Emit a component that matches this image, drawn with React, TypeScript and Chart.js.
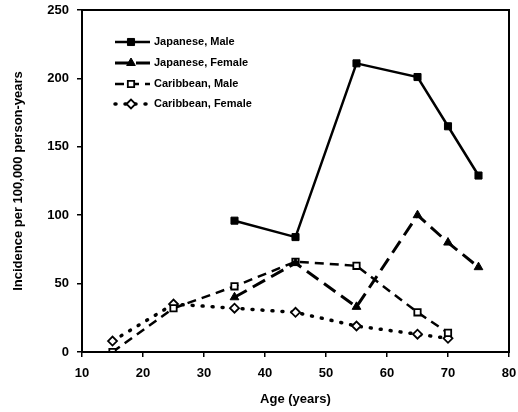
import React, { useEffect, useRef } from 'react';
import { Chart, registerables } from 'chart.js';
import { drawPoint } from 'chart.js/helpers';

Chart.register(...registerables);

const seriesNames = ['Japanese, Male', 'Japanese, Female', 'Caribbean, Male', 'Caribbean, Female'];
const japaneseAges = [35, 45, 55, 65, 70, 75];
const japaneseMale = [96, 84, 211, 201, 165, 129];
const japaneseFemale = [40, 65, 33, 100, 80, 62];
const caribbeanAges = [15, 25, 35, 45, 55, 65, 70];
const caribbeanMale = [0, 32, 48, 66, 63, 29, 14];
const caribbeanFemale = [8, 35, 32, 29, 19, 13, 10];
const xTickValues = [10, 20, 30, 40, 50, 60, 70, 80];
const yTickValues = [0, 50, 100, 150, 200, 250];

const FONT = '"Liberation Sans", Arial, sans-serif';

const toPoints = (xs: number[], ys: number[]) => xs.map((x, i) => ({ x, y: ys[i] }));

const frameAndLegend = {
  id: 'frameAndLegend',
  afterDatasetsDraw(chart: any) {
    const { ctx, chartArea } = chart;
    ctx.save();
    ctx.strokeStyle = '#000';
    ctx.lineWidth = 2;
    ctx.strokeRect(chartArea.left, chartArea.top, chartArea.right - chartArea.left, chartArea.bottom - chartArea.top);
    const x0 = 115;
    const x1 = 150;
    const ys = [42, 63, 84, 104];
    chart.data.datasets.forEach((ds: any, i: number) => {
      const y = ys[i];
      ctx.save();
      ctx.strokeStyle = ds.borderColor;
      ctx.lineWidth = ds.borderWidth;
      ctx.setLineDash(ds.borderDash || []);
      ctx.lineCap = ds.borderCapStyle || 'butt';
      ctx.beginPath();
      ctx.moveTo(x0, y);
      ctx.lineTo(x1, y);
      ctx.stroke();
      ctx.setLineDash([]);
      ctx.fillStyle = ds.pointBackgroundColor;
      ctx.strokeStyle = ds.pointBorderColor;
      ctx.lineWidth = ds.pointBorderWidth;
      drawPoint(ctx, { pointStyle: ds.pointStyle, radius: ds.pointRadius, rotation: 0, borderWidth: ds.pointBorderWidth }, 131, y);
      ctx.restore();
      ctx.fillStyle = '#000';
      ctx.font = `bold 11px ${FONT}`;
      ctx.textBaseline = 'middle';
      ctx.textAlign = 'left';
      ctx.fillText(seriesNames[i], 154, y);
    });
    ctx.restore();
  },
};

export default function App() {
  const ref = useRef<HTMLCanvasElement | null>(null);
  useEffect(() => {
    document.body.style.margin = '0';
    const canvas = ref.current!;
    const chart = new Chart(canvas, {
      type: 'line',
      data: {
        datasets: [
          {
            label: seriesNames[0],
            data: toPoints(japaneseAges, japaneseMale),
            borderColor: '#000',
            borderWidth: 2.5,
            pointStyle: 'rect',
            pointRadius: 5,
            pointBackgroundColor: '#000',
            pointBorderColor: '#000',
            pointBorderWidth: 1,
            tension: 0,
          },
          {
            label: seriesNames[1],
            data: toPoints(japaneseAges, japaneseFemale),
            borderColor: '#000',
            borderWidth: 3,
            borderDash: [14, 7],
            pointStyle: 'triangle',
            pointRadius: 5,
            pointBackgroundColor: '#000',
            pointBorderColor: '#000',
            pointBorderWidth: 1,
            tension: 0,
          },
          {
            label: seriesNames[2],
            data: toPoints(caribbeanAges, caribbeanMale),
            borderColor: '#000',
            borderWidth: 2.5,
            borderDash: [9, 6],
            pointStyle: 'rect',
            pointRadius: 4.5,
            pointBackgroundColor: '#fff',
            pointBorderColor: '#000',
            pointBorderWidth: 1.8,
            tension: 0,
          },
          {
            label: seriesNames[3],
            data: toPoints(caribbeanAges, caribbeanFemale),
            borderColor: '#000',
            borderWidth: 3.5,
            borderDash: [1, 9],
            borderCapStyle: 'round',
            pointStyle: 'rectRot',
            pointRadius: 4.5,
            pointBackgroundColor: '#fff',
            pointBorderColor: '#000',
            pointBorderWidth: 1.8,
            tension: 0,
          },
        ] as any,
      },
      options: {
        responsive: false,
        animation: false,
        layout: { padding: { top: 10, right: 9, left: 0, bottom: 0 } },
        plugins: { legend: { display: false }, tooltip: { enabled: false } },
        scales: {
          x: {
            type: 'linear',
            min: 10,
            max: 80,
            afterBuildTicks: (s: any) => { s.ticks = xTickValues.map((v) => ({ value: v })); },
            afterFit: (s: any) => { s.height = 60; s.paddingLeft = 0; s.paddingRight = 0; },
            ticks: { color: '#000', font: { family: FONT, size: 13, weight: 'bold' }, padding: 9, maxRotation: 0 },
            grid: { display: true, drawOnChartArea: false, drawTicks: true, tickLength: 5, color: '#000', lineWidth: 1.5 },
            border: { display: true, color: '#000', width: 2 },
            title: { display: true, text: 'Age (years)', color: '#000', font: { family: FONT, size: 13, weight: 'bold' }, padding: { top: 4, bottom: 5 } },
          },
          y: {
            type: 'linear',
            min: 0,
            max: 250,
            afterBuildTicks: (s: any) => { s.ticks = yTickValues.map((v) => ({ value: v })); },
            afterFit: (s: any) => { s.width = 82; s.paddingTop = 0; s.paddingBottom = 0; },
            ticks: { color: '#000', font: { family: FONT, size: 13, weight: 'bold' }, padding: 8 },
            grid: { display: true, drawOnChartArea: false, drawTicks: true, tickLength: 5, color: '#000', lineWidth: 1.5 },
            border: { display: true, color: '#000', width: 2 },
            title: { display: true, text: 'Incidence per 100,000 person-years', color: '#000', font: { family: FONT, size: 13, weight: 'bold' }, padding: { top: 11, bottom: 4 } },
          },
        },
      },
      plugins: [frameAndLegend],
    });
    return () => chart.destroy();
  }, []);
  return <canvas ref={ref} width={518} height={412} style={{ display: 'block', width: 518, height: 412 }} />;
}
